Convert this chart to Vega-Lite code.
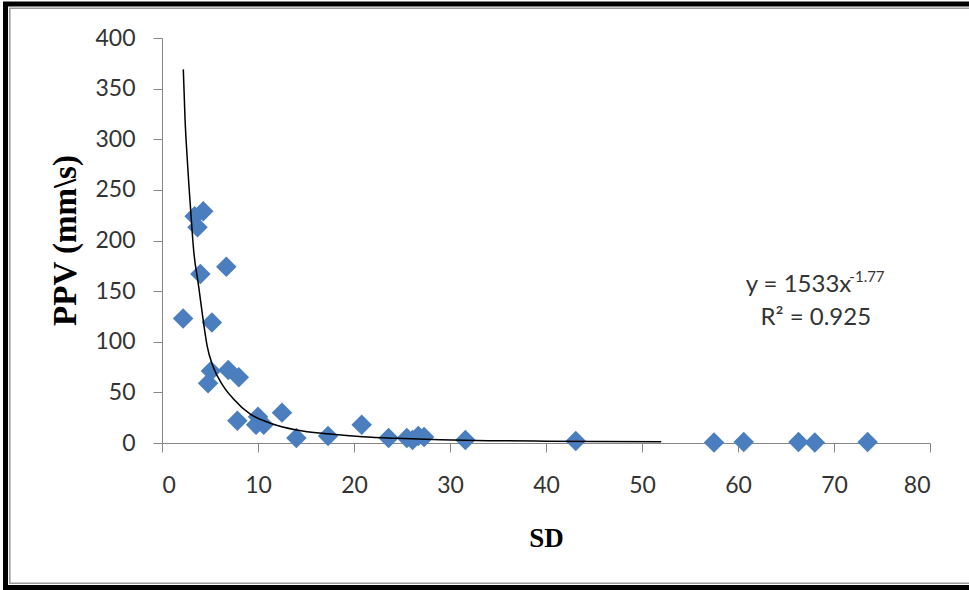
{
  "$schema": "https://vega.github.io/schema/vega-lite/v6.json",
  "width": 768,
  "height": 405,
  "autosize": "none",
  "padding": {"left": 162, "top": 38, "right": 39, "bottom": 147},
  "background": "white",
  "config": {"view": {"stroke": null}},
  "datasets": {
    "points": [
      {"SD": 2.2, "PPV": 123}, {"SD": 3.4, "PPV": 224}, {"SD": 4.3, "PPV": 229},
      {"SD": 3.7, "PPV": 213}, {"SD": 4.0, "PPV": 167}, {"SD": 6.7, "PPV": 174},
      {"SD": 5.2, "PPV": 119}, {"SD": 5.1, "PPV": 71}, {"SD": 4.8, "PPV": 59},
      {"SD": 6.9, "PPV": 72}, {"SD": 8.0, "PPV": 65}, {"SD": 7.85, "PPV": 22},
      {"SD": 10.0, "PPV": 26}, {"SD": 9.8, "PPV": 18}, {"SD": 10.6, "PPV": 18},
      {"SD": 12.5, "PPV": 30}, {"SD": 14.0, "PPV": 5}, {"SD": 17.3, "PPV": 7},
      {"SD": 20.8, "PPV": 18}, {"SD": 23.6, "PPV": 5}, {"SD": 25.5, "PPV": 5},
      {"SD": 26.1, "PPV": 3}, {"SD": 26.7, "PPV": 7}, {"SD": 27.3, "PPV": 6},
      {"SD": 31.6, "PPV": 3}, {"SD": 43.1, "PPV": 2}, {"SD": 57.5, "PPV": 0.5},
      {"SD": 60.6, "PPV": 1}, {"SD": 66.3, "PPV": 1}, {"SD": 68.0, "PPV": 0.5},
      {"SD": 73.5, "PPV": 1}
    ],
    "trend": [
      {"SD": 2.22, "PPV": 369}, {"SD": 2.4, "PPV": 320}, {"SD": 2.6, "PPV": 285},
      {"SD": 2.8, "PPV": 255}, {"SD": 3.0, "PPV": 228}, {"SD": 3.3, "PPV": 190},
      {"SD": 3.8, "PPV": 156}, {"SD": 4.25, "PPV": 124}, {"SD": 4.7, "PPV": 96},
      {"SD": 5.3, "PPV": 76}, {"SD": 6.4, "PPV": 56}, {"SD": 7.4, "PPV": 44},
      {"SD": 9.2, "PPV": 28.5}, {"SD": 11.3, "PPV": 19.5}, {"SD": 14.0, "PPV": 12.8},
      {"SD": 17.5, "PPV": 8.9}, {"SD": 20.9, "PPV": 6.2}, {"SD": 24.4, "PPV": 4.6},
      {"SD": 29, "PPV": 3.2}, {"SD": 34, "PPV": 2.3}, {"SD": 40, "PPV": 1.8},
      {"SD": 46, "PPV": 1.5}, {"SD": 52, "PPV": 1.3}
    ]
  },
  "layer": [
    {
      "data": {"name": "points"},
      "mark": {"type": "point", "shape": "diamond", "filled": true, "size": 420, "color": "#4A7EBF", "opacity": 1},
      "encoding": {
        "x": {
          "field": "SD", "type": "quantitative",
          "scale": {"domain": [0, 80], "nice": false, "zero": false},
          "axis": {
            "title": "SD", "values": [0, 10, 20, 30, 40, 50, 60, 70, 80],
            "grid": false, "domainColor": "#868686", "tickColor": "#868686", "tickSize": 9,
            "labelFont": "Lato", "labelFontSize": 23, "labelColor": "#333333", "labelPadding": 22,
            "titleFont": "Liberation Serif", "titleFontWeight": "bold", "titleFontSize": 27, "titleColor": "#000000",
            "titleX": 384, "titleY": 95, "titleAlign": "center", "titleBaseline": "middle"
          }
        },
        "y": {
          "field": "PPV", "type": "quantitative",
          "scale": {"domain": [0, 400], "nice": false},
          "axis": {
            "title": "PPV (mm\\s)", "values": [0, 50, 100, 150, 200, 250, 300, 350, 400],
            "grid": false, "domainColor": "#868686", "tickColor": "#868686", "tickSize": 9,
            "labelFont": "Lato", "labelFontSize": 23, "labelColor": "#333333", "labelPadding": 18,
            "titleFont": "Liberation Serif", "titleFontWeight": "bold", "titleFontSize": 33, "titleColor": "#000000",
            "titleX": -97, "titleY": 202, "titleAlign": "center", "titleBaseline": "middle"
          }
        }
      }
    },
    {
      "data": {"name": "trend"},
      "mark": {"type": "line", "color": "#000000", "strokeWidth": 1.5, "interpolate": "monotone"},
      "encoding": {
        "x": {"field": "SD", "type": "quantitative"},
        "y": {"field": "PPV", "type": "quantitative"}
      }
    },
    {
      "data": {"values": [{"label": "y = 1533x"}]},
      "mark": {"type": "text", "font": "Lato", "fontSize": 24, "color": "#333333", "align": "left", "baseline": "middle"},
      "encoding": {
        "x": {"datum": 60.8, "type": "quantitative"},
        "y": {"datum": 156, "type": "quantitative"},
        "text": {"field": "label"}
      }
    },
    {
      "data": {"values": [{"label": "-1.77"}]},
      "mark": {"type": "text", "font": "Lato", "fontSize": 15, "color": "#333333", "align": "left", "baseline": "middle"},
      "encoding": {
        "x": {"datum": 71.6, "type": "quantitative"},
        "y": {"datum": 164, "type": "quantitative"},
        "text": {"field": "label"}
      }
    },
    {
      "data": {"values": [{"label": "R² = 0.925"}]},
      "mark": {"type": "text", "font": "Lato", "fontSize": 24, "color": "#333333", "align": "center", "baseline": "middle"},
      "encoding": {
        "x": {"datum": 68.1, "type": "quantitative"},
        "y": {"datum": 123.5, "type": "quantitative"},
        "text": {"field": "label"}
      }
    },
    {
      "data": {"values": [{"frame": "outer"}]},
      "mark": {"type": "rect", "fill": null, "stroke": "#000000", "strokeWidth": 5, "clip": false},
      "encoding": {
        "x": {"datum": -16.3, "type": "quantitative"},
        "x2": {"datum": 85},
        "y": {"datum": 433.6, "type": "quantitative"},
        "y2": {"datum": -142.7}
      }
    },
    {
      "data": {"values": [{"frame": "inner"}]},
      "mark": {"type": "rect", "fill": null, "stroke": "#9a9a9a", "strokeWidth": 1.5, "clip": false},
      "encoding": {
        "x": {"datum": -15.85, "type": "quantitative"},
        "x2": {"datum": 85},
        "y": {"datum": 429.3, "type": "quantitative"},
        "y2": {"datum": -138.4}
      }
    }
  ]
}
